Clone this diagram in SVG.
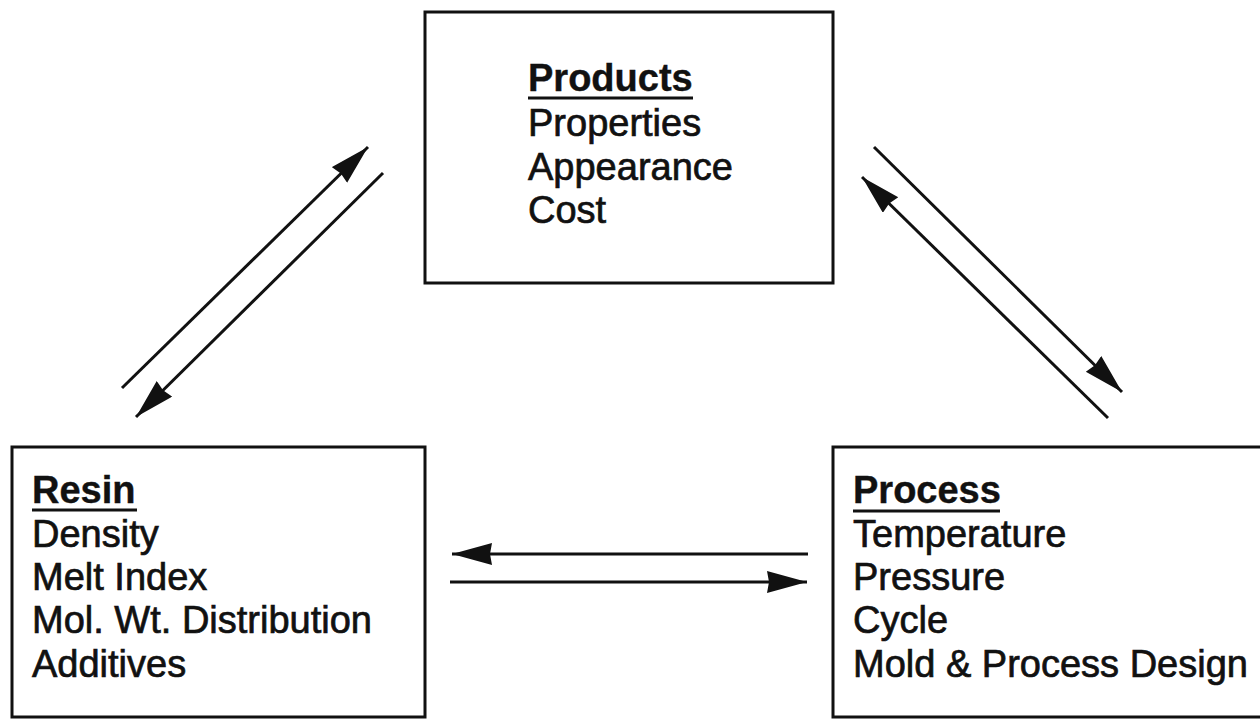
<svg xmlns="http://www.w3.org/2000/svg" width="1260" height="719" viewBox="0 0 1260 719">
<style>
.box{fill:#fff;stroke:#111;stroke-width:3}
.t{font-family:"Liberation Sans",Arial,sans-serif;font-size:38px;fill:#111;stroke:#111;stroke-width:0.7}
.h{font-weight:bold;stroke-width:0.4}
.ul{stroke:#111;stroke-width:3}
.c{stroke:#111;stroke-width:3;fill:none;marker-end:url(#ah)}
</style>
<defs>
<marker id="ah" markerUnits="userSpaceOnUse" markerWidth="42" markerHeight="24" refX="40" refY="11" orient="auto">
<path d="M0,0 L40,11 L0,22 L2,11 z" fill="#111"/>
</marker>
</defs>
<rect width="1260" height="719" fill="#fff"/>
<g id="products">
<rect class="box" x="425" y="12" width="408" height="271"/>
<text class="t h" x="528" y="91">Products</text>
<line class="ul" x1="528" y1="98" x2="693" y2="98"/>
<text class="t" x="528" y="136">Properties</text>
<text class="t" x="528" y="180">Appearance</text>
<text class="t" x="528" y="223">Cost</text>
</g>
<g id="resin">
<rect class="box" x="12" y="447" width="413" height="270"/>
<text class="t h" x="32" y="503">Resin</text>
<line class="ul" x1="32" y1="510" x2="137" y2="510"/>
<text class="t" x="32" y="547">Density</text>
<text class="t" x="32" y="590">Melt Index</text>
<text class="t" x="32" y="633">Mol. Wt. Distribution</text>
<text class="t" x="32" y="677">Additives</text>
</g>
<g id="process">
<rect class="box" x="833" y="447" width="440" height="270"/>
<text class="t h" x="853" y="503">Process</text>
<line class="ul" x1="853" y1="511" x2="1000" y2="511"/>
<text class="t" x="853" y="547">Temperature</text>
<text class="t" x="853" y="590">Pressure</text>
<text class="t" x="853" y="633">Cycle</text>
<text class="t" x="853" y="677">Mold &amp; Process Design</text>
</g>
<g id="connectors">
<line class="c" x1="122" y1="388" x2="368" y2="147"/>
<line class="c" x1="383" y1="173" x2="136" y2="417"/>
<line class="c" x1="874" y1="147" x2="1122" y2="392"/>
<line class="c" x1="1108" y1="418" x2="862" y2="177"/>
<line class="c" x1="808" y1="554" x2="452" y2="554"/>
<line class="c" x1="450" y1="582" x2="807" y2="582"/>
</g>
</svg>
